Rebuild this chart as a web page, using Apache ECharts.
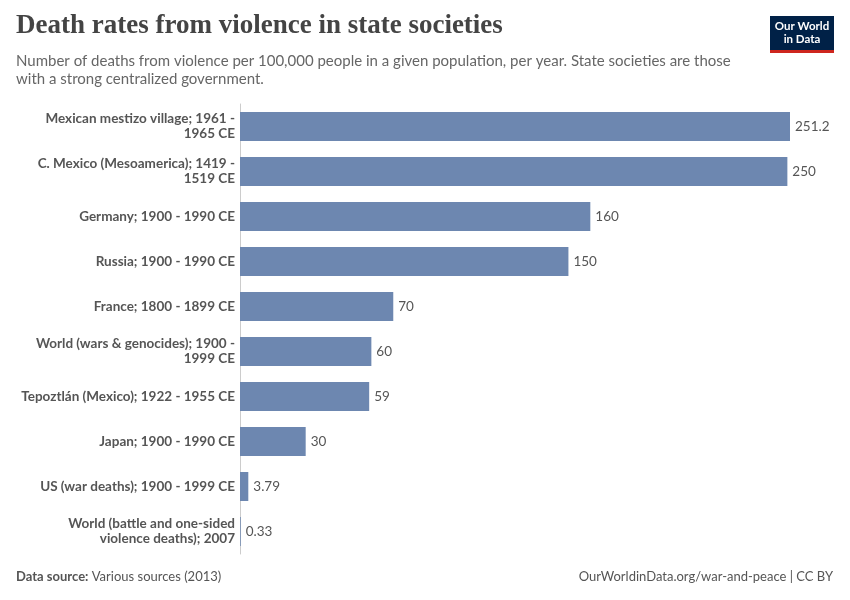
<!DOCTYPE html>
<html><head><meta charset="utf-8">
<script src="https://cdn.jsdelivr.net/npm/echarts@6/dist/echarts.min.js"></script>
<style>html,body{margin:0;padding:0;background:#fff}#c{width:850px;height:600px}</style>
</head><body><div id="c"></div>
<script>
const categories = [
  "Mexican mestizo village; 1961 -\n1965 CE",
  "C. Mexico (Mesoamerica); 1419 -\n1519 CE",
  "Germany; 1900 - 1990 CE",
  "Russia; 1900 - 1990 CE",
  "France; 1800 - 1899 CE",
  "World (wars & genocides); 1900 -\n1999 CE",
  "Tepoztlán (Mexico); 1922 - 1955 CE",
  "Japan; 1900 - 1990 CE",
  "US (war deaths); 1900 - 1999 CE",
  "World (battle and one-sided\nviolence deaths); 2007"
];
const values = [251.2, 250, 160, 150, 70, 60, 59, 30, 3.79, 0.33];
const valueLabels = ["251.2", "250", "160", "150", "70", "60", "59", "30", "3.79", "0.33"];

const chart = echarts.init(document.getElementById('c'), null, {renderer: 'canvas'});
chart.setOption({
  backgroundColor: '#fff',
  animation: false,
  grid: {left: 240, right: 60, top: 104, height: 450},
  xAxis: {type: 'value', min: 0, max: 251.2, show: false},
  yAxis: {
    type: 'category', data: categories, inverse: true,
    axisLine: {show: true, lineStyle: {color: '#cccccc', width: 1}},
    axisTick: {show: false},
    axisLabel: {fontFamily: 'Lato', fontSize: 13.5, fontWeight: 'bold', color: '#555555', margin: 5, lineHeight: 15, align: 'right'}
  },
  series: [{
    type: 'bar', data: values, barWidth: 29,
    itemStyle: {color: '#6d87b0'},
    label: {show: true, position: 'right', distance: 5, fontFamily: 'Lato', fontSize: 13.5, color: '#555555',
      formatter: p => valueLabels[p.dataIndex]}
  }],
  graphic: [
    {type: 'text', left: 16, top: 13, style: {text: 'Death rates from violence in state societies', font: 'bold 27px "Liberation Serif", "DejaVu Serif", serif', fill: '#444444'}},
    {type: 'text', left: 16, top: 52, style: {text: 'Number of deaths from violence per 100,000 people in a given population, per year. State societies are those\nwith a strong centralized government.', font: '15px Lato', fill: '#666666', lineHeight: 18}},
    {type: 'rect', shape: {x: 770, y: 16, width: 64, height: 34}, style: {fill: '#002147'}},
    {type: 'rect', shape: {x: 770, y: 50, width: 64, height: 3}, style: {fill: '#ce261e'}},
    {type: 'text', x: 802, y: 33, style: {text: 'Our World\nin Data', font: 'bold 11.5px Lato', fill: '#ffffff', align: 'center', verticalAlign: 'middle', lineHeight: 13}},
    {type: 'text', left: 16, top: 570, style: {rich: {b: {font: 'bold 13px Lato', fill: '#555'}, n: {font: '13px Lato', fill: '#555'}}, text: '{b|Data source:} {n|Various sources (2013)}'}},
    {type: 'text', right: 17, top: 570, style: {text: 'OurWorldinData.org/war-and-peace | CC BY', font: '13px Lato', fill: '#555'}}
  ]
});
</script></body></html>
